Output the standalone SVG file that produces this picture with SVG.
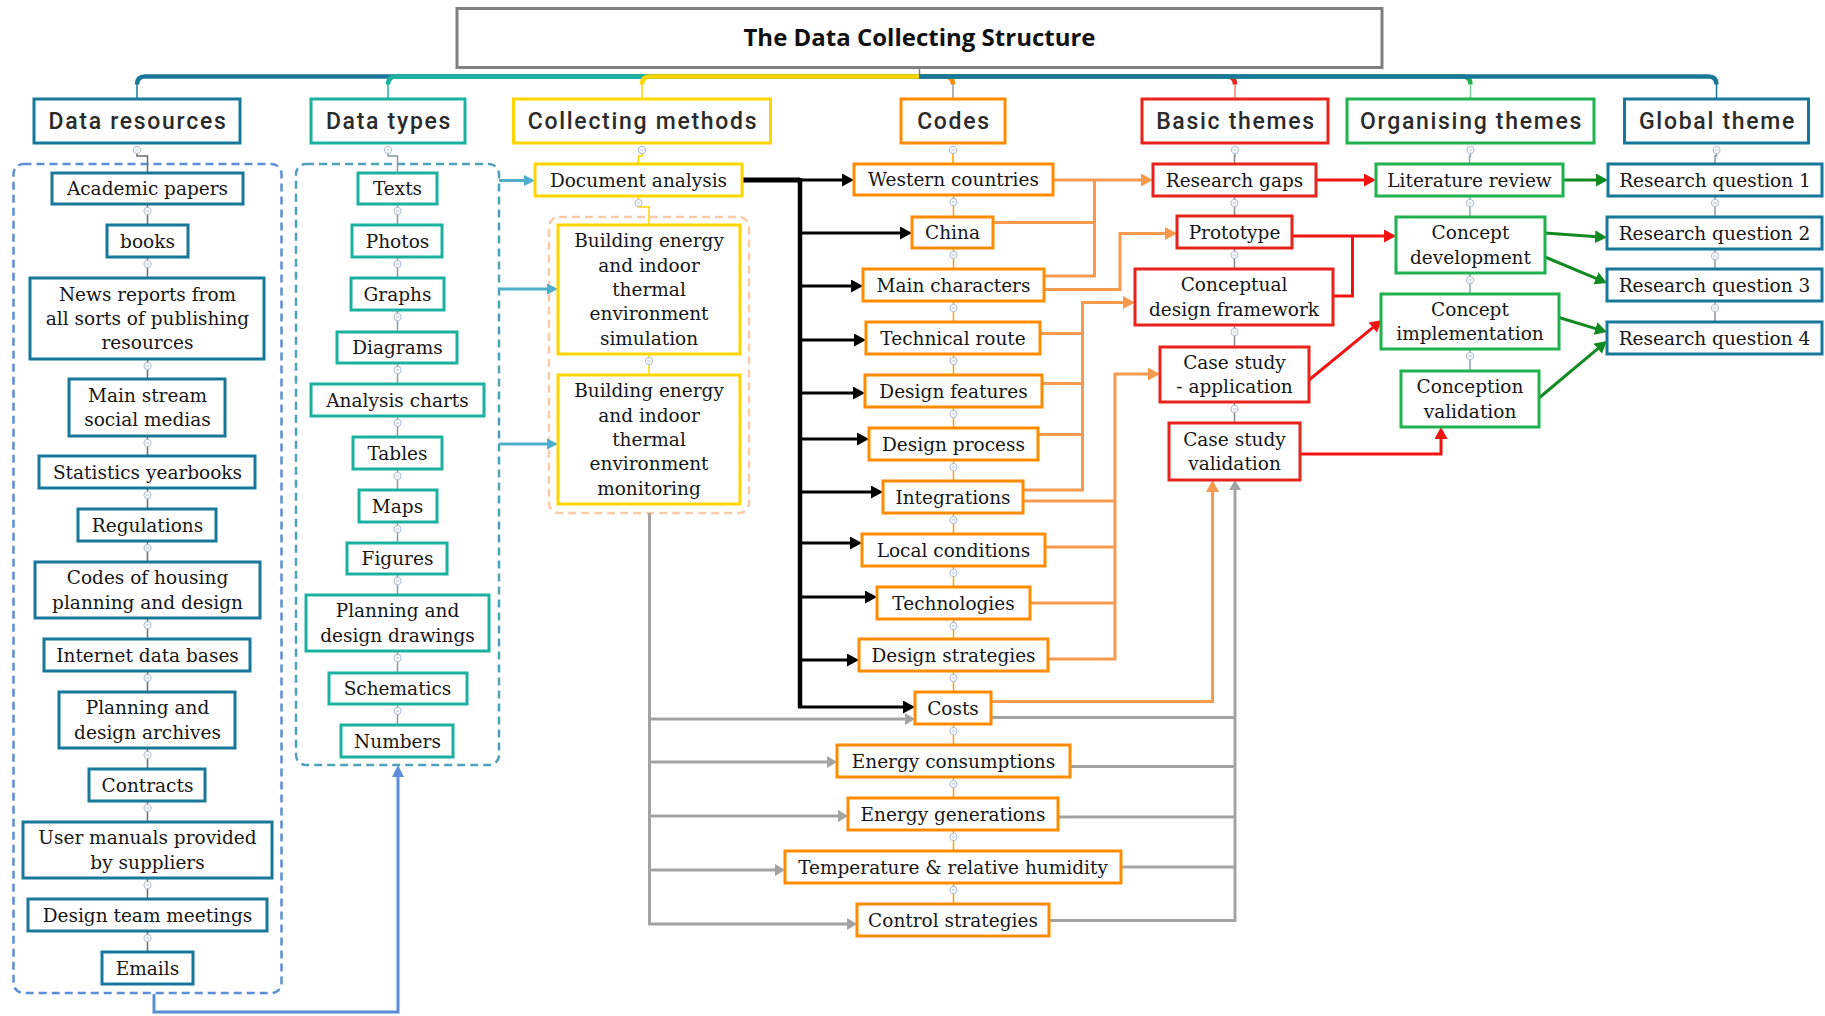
<svg xmlns="http://www.w3.org/2000/svg" xmlns:xlink="http://www.w3.org/1999/xlink" width="1825" height="1016" viewBox="0 0 1825 1016">
<style>
  .box { fill: #ffffff; stroke-width: 3; }
  .dr { stroke: #17789B; }
  .dt { stroke: #1BB1A1; }
  .cm { stroke: #FFD500; }
  .cd { stroke: #FF8C00; }
  .bt { stroke: #E8231B; }
  .ot { stroke: #1FB24E; }
  .gt { stroke: #17789B; }
  .t { font-family: "DejaVu Serif", "Liberation Serif", serif; font-size: 18.5px; fill: #161616; text-anchor: middle; }
  .h { font-family: Roboto, "Liberation Sans", sans-serif; font-weight: 500; font-size: 23px; letter-spacing: 1.7px; fill: #2b2b2b; text-anchor: middle; }
  .title { font-family: "Open Sans", "Liberation Sans", sans-serif; font-weight: 700; font-size: 24px; fill: #111111; text-anchor: middle; }
  .thin { fill: none; stroke-width: 1.5; }
  .bus { fill: none; stroke-width: 4.5; }
  .ln { fill: none; stroke-width: 3; }
  .grp { fill: none; stroke-width: 2.5; stroke-dasharray: 8 5; }
</style>
<defs>
  <g id="ci"><circle r="3.6" fill="#ffffff" stroke="#A9B9CF" stroke-width="1"/><path d="M-1.8 0H1.8" stroke="#A9B9CF" stroke-width="0.9"/></g>
  <marker id="aBlack" viewBox="0 0 12 13" refX="2" refY="6.5" markerWidth="12" markerHeight="13" markerUnits="userSpaceOnUse" orient="auto"><path d="M0 0L12 6.5L0 13z" fill="#000000"/></marker>
  <marker id="aOrange" viewBox="0 0 12 13" refX="2" refY="6.5" markerWidth="12" markerHeight="13" markerUnits="userSpaceOnUse" orient="auto"><path d="M0 0L12 6.5L0 13z" fill="#F59A4E"/></marker>
  <marker id="aRed" viewBox="0 0 12 13" refX="2" refY="6.5" markerWidth="12" markerHeight="13" markerUnits="userSpaceOnUse" orient="auto"><path d="M0 0L12 6.5L0 13z" fill="#F21212"/></marker>
  <marker id="aGreen" viewBox="0 0 12 13" refX="2" refY="6.5" markerWidth="12" markerHeight="13" markerUnits="userSpaceOnUse" orient="auto"><path d="M0 0L12 6.5L0 13z" fill="#128A22"/></marker>
  <marker id="aGray" viewBox="0 0 10 12" refX="2" refY="6" markerWidth="10" markerHeight="12" markerUnits="userSpaceOnUse" orient="auto"><path d="M0 0L10 6L0 12z" fill="#A3A3A3"/></marker>
  <marker id="aCyan" viewBox="0 0 11 11" refX="2" refY="5.5" markerWidth="11" markerHeight="11" markerUnits="userSpaceOnUse" orient="auto"><path d="M0 0L11 5.5L0 11z" fill="#4DAFCB"/></marker>
  <marker id="aBlue" viewBox="0 0 12 12" refX="2" refY="6" markerWidth="12" markerHeight="12" markerUnits="userSpaceOnUse" orient="auto"><path d="M0 0L12 6L0 12z" fill="#5A8FD7"/></marker>
</defs>
<rect width="1825" height="1016" fill="#ffffff"/>

<!-- title -->
<g id="title">
  <rect x="457" y="8.5" width="925" height="59" fill="#ffffff" stroke="#808080" stroke-width="3"/>
  <text class="title" x="919.5" y="46">The Data Collecting Structure</text>
</g>

<!-- top bus from the title to the column headers -->
<g id="bus">
  <path d="M919.5 67.5V75" stroke="#808080" stroke-width="1.5" fill="none"/>
  <path class="bus" stroke="#17789B" d="M919 76.5H145Q137 76.5 137 84.5"/>
  <path class="bus" stroke="#1BB1A1" d="M919 76.5H396Q388 76.5 388 84.5"/>
  <path class="bus" stroke="#FFD500" d="M919 76.5H650Q642 76.5 642 84.5"/>
  <path class="bus" stroke="#FF8C00" d="M919 76.5H945Q953 76.5 953 84.5"/>
  <path class="bus" stroke="#E8231B" d="M919 76.5H1227Q1235 76.5 1235 84.5"/>
  <path class="bus" stroke="#1FB24E" d="M919 76.5H1462.5Q1470.5 76.5 1470.5 84.5"/>
  <path class="bus" stroke="#17789B" d="M919 76.5H1708.5Q1716.5 76.5 1716.5 84.5"/>
  <path class="thin" stroke="#17789B" d="M137 84V99"/>
  <path class="thin" stroke="#1BB1A1" d="M388 84V99"/>
  <path class="thin" stroke="#FFD500" d="M642 84V99"/>
  <path class="thin" stroke="#999999" d="M953 84V99"/>
  <path class="thin" stroke="#F08070" d="M1235 84V99"/>
  <path class="thin" stroke="#7CCB95" d="M1470.5 84V99"/>
  <path class="thin" stroke="#17789B" d="M1716.5 84V99"/>
</g>

<!-- column headers -->
<g id="h-data-resources"><rect class="box dr" x="34" y="99" width="206" height="44"/><text class="h" x="138" y="129">Data resources</text></g>
<g id="h-data-types"><rect class="box dt" x="311" y="99" width="154" height="44"/><text class="h" x="389" y="129">Data types</text></g>
<g id="h-collecting-methods"><rect class="box cm" x="513.5" y="99" width="257" height="44"/><text class="h" x="643" y="129">Collecting methods</text></g>
<g id="h-codes"><rect class="box cd" x="901" y="99" width="104" height="44"/><text class="h" x="954" y="129">Codes</text></g>
<g id="h-basic-themes"><rect class="box bt" x="1142" y="99" width="186" height="44"/><text class="h" x="1236" y="129">Basic themes</text></g>
<g id="h-organising-themes"><rect class="box ot" x="1347" y="99" width="247" height="44"/><text class="h" x="1471.5" y="129">Organising themes</text></g>
<g id="h-global-theme"><rect class="box gt" x="1624.5" y="99" width="184" height="44"/><text class="h" x="1717.5" y="129">Global theme</text></g>

<!-- dashed groups -->
<rect id="grp-resources" class="grp" stroke="#5A8FD7" x="13.5" y="164" width="268" height="829" rx="10"/>
<rect id="grp-types" class="grp" stroke="#4FA3B8" x="296" y="164" width="203" height="601" rx="10"/>
<rect id="grp-monitoring" class="grp" stroke="#F9CBA9" x="549" y="217" width="200" height="296" rx="10"/>

<!-- tree lines inside the columns -->
<g id="tree-lines">
  <path class="thin" stroke="#6B6B6B" d="M137 153.5V156H147.5V173M147.5 204V952"/>
  <path class="thin" stroke="#8A9A9A" d="M388 153.5V156H397.5V173M397.5 204V725"/>
  <path class="thin" stroke="#FFD500" d="M642 153.5V156H638.5V164M638.5 196V207H649V225M649 354V375"/>
  <path class="thin" stroke="#FFA000" d="M953 153.5V164M953.5 195V904"/>
  <path class="thin" stroke="#8A8A8A" d="M1235 153.5V156H1234.5V164M1234.5 196V423"/>
  <path class="thin" stroke="#8AA6A6" d="M1470.5 153.5V156H1469.5V164M1470 196V371"/>
  <path class="thin" stroke="#8A9AA5" d="M1716.5 153.5V156H1715V164M1715 196V322"/>
</g>
<g id="collapse-marks">
  <use xlink:href="#ci" x="137" y="150"/><use xlink:href="#ci" x="388" y="150"/><use xlink:href="#ci" x="642" y="150"/>
  <use xlink:href="#ci" x="953" y="150"/><use xlink:href="#ci" x="1235" y="150"/><use xlink:href="#ci" x="1470.5" y="150"/><use xlink:href="#ci" x="1716.5" y="150"/>
  <use xlink:href="#ci" x="147.5" y="211"/><use xlink:href="#ci" x="147.5" y="264"/><use xlink:href="#ci" x="147.5" y="366"/><use xlink:href="#ci" x="147.5" y="443"/>
  <use xlink:href="#ci" x="147.5" y="495"/><use xlink:href="#ci" x="147.5" y="548"/><use xlink:href="#ci" x="147.5" y="625"/><use xlink:href="#ci" x="147.5" y="678"/>
  <use xlink:href="#ci" x="147.5" y="755"/><use xlink:href="#ci" x="147.5" y="808"/><use xlink:href="#ci" x="147.5" y="885"/><use xlink:href="#ci" x="147.5" y="938"/>
  <use xlink:href="#ci" x="397.5" y="211"/><use xlink:href="#ci" x="397.5" y="264"/><use xlink:href="#ci" x="397.5" y="317"/><use xlink:href="#ci" x="397.5" y="370"/>
  <use xlink:href="#ci" x="397.5" y="423"/><use xlink:href="#ci" x="397.5" y="476"/><use xlink:href="#ci" x="397.5" y="529"/><use xlink:href="#ci" x="397.5" y="581"/>
  <use xlink:href="#ci" x="397.5" y="658"/><use xlink:href="#ci" x="397.5" y="711"/>
  <use xlink:href="#ci" x="638.5" y="203"/><use xlink:href="#ci" x="649" y="361"/>
  <use xlink:href="#ci" x="953.5" y="202"/><use xlink:href="#ci" x="953.5" y="255"/><use xlink:href="#ci" x="953.5" y="308"/><use xlink:href="#ci" x="953.5" y="361"/>
  <use xlink:href="#ci" x="953.5" y="414"/><use xlink:href="#ci" x="953.5" y="467"/><use xlink:href="#ci" x="953.5" y="520"/><use xlink:href="#ci" x="953.5" y="573"/>
  <use xlink:href="#ci" x="953.5" y="626"/><use xlink:href="#ci" x="953.5" y="678"/><use xlink:href="#ci" x="953.5" y="731"/><use xlink:href="#ci" x="953.5" y="784"/>
  <use xlink:href="#ci" x="953.5" y="837"/><use xlink:href="#ci" x="953.5" y="890"/>
  <use xlink:href="#ci" x="1234.5" y="203"/><use xlink:href="#ci" x="1234.5" y="255"/><use xlink:href="#ci" x="1234.5" y="332"/><use xlink:href="#ci" x="1234.5" y="409"/>
  <use xlink:href="#ci" x="1470" y="203"/><use xlink:href="#ci" x="1470" y="280"/><use xlink:href="#ci" x="1470" y="356"/>
  <use xlink:href="#ci" x="1715" y="203"/><use xlink:href="#ci" x="1715" y="256"/><use xlink:href="#ci" x="1715" y="308"/>
</g>

<!-- connectors -->
<g id="connectors">
  <!-- resources to types -->
  <path class="ln" stroke="#5A8FD7" d="M154 994V1012H398V775" marker-end="url(#aBlue)"/>
  <!-- types to collecting methods -->
  <path class="ln" stroke="#4DAFCB" d="M499 180.5H526" marker-end="url(#aCyan)"/>
  <path class="ln" stroke="#4DAFCB" d="M499 289H549" marker-end="url(#aCyan)"/>
  <path class="ln" stroke="#4DAFCB" d="M499 444H549" marker-end="url(#aCyan)"/>
  <!-- document analysis to codes -->
  <path fill="none" stroke="#000000" stroke-width="5" d="M742 180H800"/>
  <path fill="none" stroke="#000000" stroke-width="4.5" d="M800 178V707"/>
  <g class="ln" stroke="#000000">
    <path d="M800 180H844" marker-end="url(#aBlack)"/>
    <path d="M800 233H902" marker-end="url(#aBlack)"/>
    <path d="M800 286H853" marker-end="url(#aBlack)"/>
    <path d="M800 340H856" marker-end="url(#aBlack)"/>
    <path d="M800 393H855" marker-end="url(#aBlack)"/>
    <path d="M800 439H859" marker-end="url(#aBlack)"/>
    <path d="M800 492H873" marker-end="url(#aBlack)"/>
    <path d="M800 543H852" marker-end="url(#aBlack)"/>
    <path d="M800 597H867" marker-end="url(#aBlack)"/>
    <path d="M800 660H849" marker-end="url(#aBlack)"/>
    <path d="M798 707H905" marker-end="url(#aBlack)"/>
  </g>
  <!-- monitoring to codes -->
  <g class="ln" stroke="#A3A3A3">
    <path d="M649.5 513V924"/>
    <path d="M649.5 719H907" marker-end="url(#aGray)"/>
    <path d="M649.5 762H829" marker-end="url(#aGray)"/>
    <path d="M649.5 816H840" marker-end="url(#aGray)"/>
    <path d="M649.5 870H777" marker-end="url(#aGray)"/>
    <path d="M648 924H849" marker-end="url(#aGray)"/>
    <path d="M991 717.5H1235M1070 766.5H1235M1058 817H1235M1121 867H1235M1049 920.5H1235"/>
    <path d="M1235 922V488" marker-end="url(#aGray)"/>
  </g>
  <!-- codes to basic themes -->
  <g class="ln" stroke="#F59A4E">
    <path d="M1053 180H1143" marker-end="url(#aOrange)"/>
    <path d="M993 222.5H1094.5M1044 276H1094.5V180"/>
    <path d="M1044 289.5H1120V233.5H1167" marker-end="url(#aOrange)"/>
    <path d="M1040 333.5H1082.5M1042 383.5H1082.5M1038 434.5H1082.5"/>
    <path d="M1023 490H1082.5V302.5H1125" marker-end="url(#aOrange)"/>
    <path d="M1023 501H1115M1045 547H1115M1030 603H1115"/>
    <path d="M1048 659H1115V374H1150" marker-end="url(#aOrange)"/>
    <path d="M991 701.5H1212.5V490" marker-end="url(#aOrange)"/>
  </g>
  <!-- basic themes to organising themes -->
  <g class="ln" stroke="#F21212">
    <path d="M1316 180H1366" marker-end="url(#aRed)"/>
    <path d="M1292 236H1386" marker-end="url(#aRed)"/>
    <path d="M1333 296H1352.5V236"/>
    <path d="M1309 380L1374.3 326.3" marker-end="url(#aRed)"/>
    <path d="M1300 454H1441V437" marker-end="url(#aRed)"/>
  </g>
  <!-- organising themes to global theme -->
  <g class="ln" stroke="#128A22">
    <path d="M1563 180H1598" marker-end="url(#aGreen)"/>
    <path d="M1545 233L1597 236.8" marker-end="url(#aGreen)"/>
    <path d="M1545 257L1597.8 279.1" marker-end="url(#aGreen)"/>
    <path d="M1559 317.5L1597.4 329.1" marker-end="url(#aGreen)"/>
    <path d="M1539 398L1599.3 347.4" marker-end="url(#aGreen)"/>
  </g>
</g>

<!-- data resources -->
<g id="dr-academic"><rect class="box dr" x="52" y="173" width="191" height="31"/><text class="t" x="147.5" y="195">Academic papers</text></g>
<g id="dr-books"><rect class="box dr" x="107" y="225" width="81" height="32"/><text class="t" x="147.5" y="247.5">books</text></g>
<g id="dr-news"><rect class="box dr" x="30" y="278" width="234" height="81"/><text class="t" x="147.5" y="300.6">News reports from<tspan x="147.5" y="325">all sorts of publishing</tspan><tspan x="147.5" y="349.4">resources</tspan></text></g>
<g id="dr-social"><rect class="box dr" x="69" y="379" width="156" height="57"/><text class="t" x="147.5" y="401.8">Main stream<tspan x="147.5" y="426.2">social medias</tspan></text></g>
<g id="dr-stats"><rect class="box dr" x="39" y="456" width="216" height="32"/><text class="t" x="147.5" y="478.5">Statistics yearbooks</text></g>
<g id="dr-regs"><rect class="box dr" x="78" y="509" width="138" height="32"/><text class="t" x="147.5" y="531.5">Regulations</text></g>
<g id="dr-codes"><rect class="box dr" x="35" y="562" width="225" height="56"/><text class="t" x="147.5" y="584.3">Codes of housing<tspan x="147.5" y="608.7">planning and design</tspan></text></g>
<g id="dr-internet"><rect class="box dr" x="44" y="639" width="206" height="32"/><text class="t" x="147.5" y="661.5">Internet data bases</text></g>
<g id="dr-archives"><rect class="box dr" x="59" y="692" width="176" height="56"/><text class="t" x="147.5" y="714.3">Planning and<tspan x="147.5" y="738.7">design archives</tspan></text></g>
<g id="dr-contracts"><rect class="box dr" x="89" y="769" width="116" height="32"/><text class="t" x="147.5" y="791.5">Contracts</text></g>
<g id="dr-manuals"><rect class="box dr" x="23" y="822" width="249" height="56"/><text class="t" x="147.5" y="844.3">User manuals provided<tspan x="147.5" y="868.7">by suppliers</tspan></text></g>
<g id="dr-meetings"><rect class="box dr" x="28" y="899" width="239" height="32"/><text class="t" x="147.5" y="921.5">Design team meetings</text></g>
<g id="dr-emails"><rect class="box dr" x="102" y="952" width="91" height="32"/><text class="t" x="147.5" y="974.5">Emails</text></g>

<!-- data types -->
<g id="dt-texts"><rect class="box dt" x="358" y="173" width="79" height="31"/><text class="t" x="397.5" y="195">Texts</text></g>
<g id="dt-photos"><rect class="box dt" x="352" y="225" width="90" height="32"/><text class="t" x="397.5" y="247.5">Photos</text></g>
<g id="dt-graphs"><rect class="box dt" x="351" y="278" width="93" height="32"/><text class="t" x="397.5" y="300.5">Graphs</text></g>
<g id="dt-diagrams"><rect class="box dt" x="337" y="332" width="120" height="31"/><text class="t" x="397.5" y="354">Diagrams</text></g>
<g id="dt-analysis"><rect class="box dt" x="311" y="384" width="173" height="32"/><text class="t" x="397.5" y="406.5">Analysis charts</text></g>
<g id="dt-tables"><rect class="box dt" x="353" y="437" width="89" height="32"/><text class="t" x="397.5" y="459.5">Tables</text></g>
<g id="dt-maps"><rect class="box dt" x="359" y="490" width="78" height="32"/><text class="t" x="397.5" y="512.5">Maps</text></g>
<g id="dt-figures"><rect class="box dt" x="347" y="543" width="100" height="31"/><text class="t" x="397.5" y="565">Figures</text></g>
<g id="dt-drawings"><rect class="box dt" x="306" y="595" width="183" height="56"/><text class="t" x="397.5" y="617.3">Planning and<tspan x="397.5" y="641.7">design drawings</tspan></text></g>
<g id="dt-schematics"><rect class="box dt" x="329" y="673" width="138" height="31"/><text class="t" x="397.5" y="695">Schematics</text></g>
<g id="dt-numbers"><rect class="box dt" x="341" y="725" width="112" height="32"/><text class="t" x="397.5" y="747.5">Numbers</text></g>

<!-- collecting methods -->
<g id="cm-document"><rect class="box cm" x="535" y="164" width="207" height="32"/><text class="t" x="638.5" y="186.5">Document analysis</text></g>
<g id="cm-simulation"><rect class="box cm" x="558" y="225" width="182" height="129"/><text class="t" x="649" y="247.2">Building energy<tspan x="649" y="271.6">and indoor</tspan><tspan x="649" y="296">thermal</tspan><tspan x="649" y="320.4">environment</tspan><tspan x="649" y="344.8">simulation</tspan></text></g>
<g id="cm-monitoring"><rect class="box cm" x="558" y="375" width="182" height="129"/><text class="t" x="649" y="397.2">Building energy<tspan x="649" y="421.6">and indoor</tspan><tspan x="649" y="446">thermal</tspan><tspan x="649" y="470.4">environment</tspan><tspan x="649" y="494.8">monitoring</tspan></text></g>

<!-- codes -->
<g id="cd-western"><rect class="box cd" x="854" y="164" width="199" height="31"/><text class="t" x="953.5" y="186">Western countries</text></g>
<g id="cd-china"><rect class="box cd" x="912" y="217" width="81" height="31"/><text class="t" x="952.5" y="239">China</text></g>
<g id="cd-main"><rect class="box cd" x="863" y="269" width="181" height="32"/><text class="t" x="953.5" y="291.5">Main characters</text></g>
<g id="cd-technical"><rect class="box cd" x="866" y="322" width="174" height="32"/><text class="t" x="953" y="344.5">Technical route</text></g>
<g id="cd-features"><rect class="box cd" x="865" y="375" width="177" height="32"/><text class="t" x="953.5" y="397.5">Design features</text></g>
<g id="cd-process"><rect class="box cd" x="869" y="428" width="169" height="32"/><text class="t" x="953.5" y="450.5">Design process</text></g>
<g id="cd-integrations"><rect class="box cd" x="883" y="481" width="140" height="32"/><text class="t" x="953" y="503.5">Integrations</text></g>
<g id="cd-local"><rect class="box cd" x="862" y="534" width="183" height="32"/><text class="t" x="953.5" y="556.5">Local conditions</text></g>
<g id="cd-technologies"><rect class="box cd" x="877" y="587" width="153" height="32"/><text class="t" x="953.5" y="609.5">Technologies</text></g>
<g id="cd-strategies"><rect class="box cd" x="859" y="639" width="189" height="32"/><text class="t" x="953.5" y="661.5">Design strategies</text></g>
<g id="cd-costs"><rect class="box cd" x="915" y="692" width="76" height="32"/><text class="t" x="953" y="714.5">Costs</text></g>
<g id="cd-consumptions"><rect class="box cd" x="837" y="745" width="233" height="32"/><text class="t" x="953.5" y="767.5">Energy consumptions</text></g>
<g id="cd-generations"><rect class="box cd" x="848" y="798" width="210" height="32"/><text class="t" x="953" y="820.5">Energy generations</text></g>
<g id="cd-temperature"><rect class="box cd" x="785" y="851" width="336" height="32"/><text class="t" x="953" y="873.5">Temperature &amp; relative humidity</text></g>
<g id="cd-control"><rect class="box cd" x="857" y="904" width="192" height="32"/><text class="t" x="953" y="926.5">Control strategies</text></g>

<!-- basic themes -->
<g id="bt-gaps"><rect class="box bt" x="1153" y="164" width="163" height="32"/><text class="t" x="1234.5" y="186.5">Research gaps</text></g>
<g id="bt-prototype"><rect class="box bt" x="1177" y="216" width="115" height="32"/><text class="t" x="1234.5" y="238.5">Prototype</text></g>
<g id="bt-framework"><rect class="box bt" x="1135" y="269" width="198" height="56"/><text class="t" x="1234" y="291.3">Conceptual<tspan x="1234" y="315.7">design framework</tspan></text></g>
<g id="bt-application"><rect class="box bt" x="1160" y="347" width="149" height="55"/><text class="t" x="1234.5" y="368.8">Case study<tspan x="1234.5" y="393.2">- application</tspan></text></g>
<g id="bt-validation"><rect class="box bt" x="1169" y="423" width="131" height="57"/><text class="t" x="1234.5" y="445.8">Case study<tspan x="1234.5" y="470.2">validation</tspan></text></g>

<!-- organising themes -->
<g id="ot-literature"><rect class="box ot" x="1376" y="164" width="187" height="32"/><text class="t" x="1469.5" y="186.5">Literature review</text></g>
<g id="ot-development"><rect class="box ot" x="1396" y="217" width="149" height="56"/><text class="t" x="1470.5" y="239.3">Concept<tspan x="1470.5" y="263.7">development</tspan></text></g>
<g id="ot-implementation"><rect class="box ot" x="1381" y="294" width="178" height="55"/><text class="t" x="1470" y="315.8">Concept<tspan x="1470" y="340.2">implementation</tspan></text></g>
<g id="ot-validation"><rect class="box ot" x="1401" y="371" width="138" height="56"/><text class="t" x="1470" y="393.3">Conception<tspan x="1470" y="417.7">validation</tspan></text></g>

<!-- global theme -->
<g id="gt-rq1"><rect class="box gt" x="1608" y="164" width="214" height="32"/><text class="t" x="1715" y="186.5">Research question 1</text></g>
<g id="gt-rq2"><rect class="box gt" x="1607" y="217" width="215" height="32"/><text class="t" x="1714.5" y="239.5">Research question 2</text></g>
<g id="gt-rq3"><rect class="box gt" x="1607" y="269" width="215" height="32"/><text class="t" x="1714.5" y="291.5">Research question 3</text></g>
<g id="gt-rq4"><rect class="box gt" x="1607" y="322" width="215" height="32"/><text class="t" x="1714.5" y="344.5">Research question 4</text></g>
</svg>
